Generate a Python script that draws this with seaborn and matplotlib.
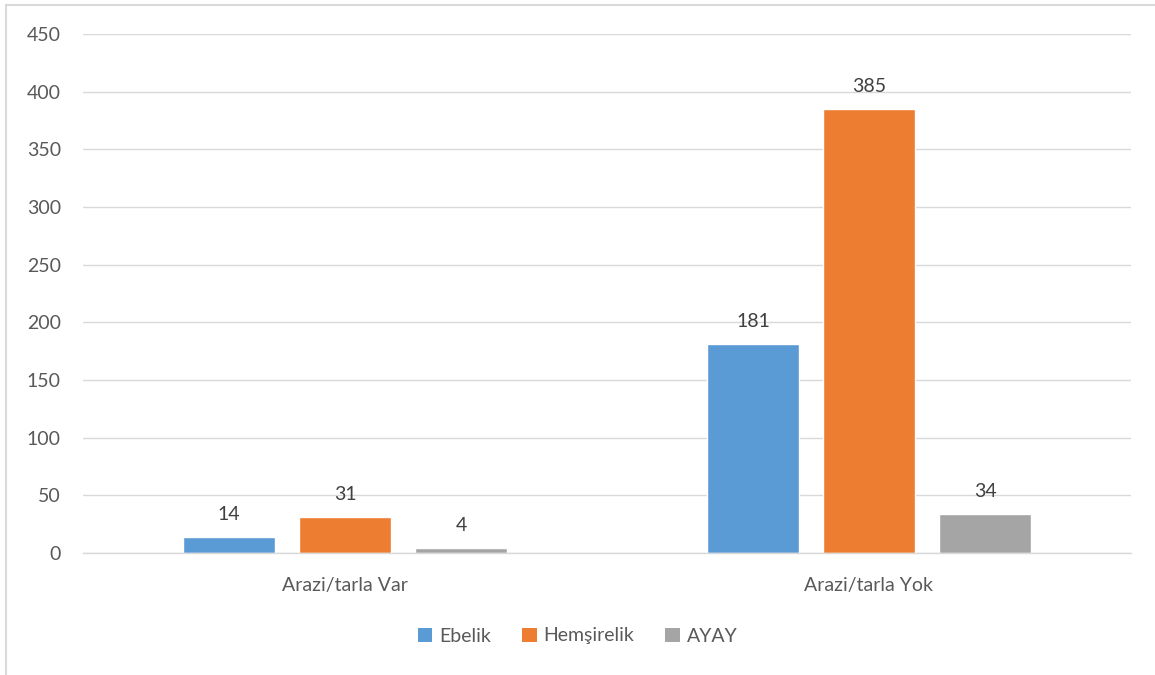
import matplotlib
matplotlib.use("Agg")
import matplotlib.pyplot as plt
import seaborn as sns
import pandas as pd
from matplotlib.lines import Line2D
from matplotlib.patches import Patch

categories = ["Arazi/tarla Var", "Arazi/tarla Yok"]
series_names = ["Ebelik", "Hemşirelik", "AYAY"]
ebelik = [14, 181]
hemsirelik = [31, 385]
ayay = [4, 34]
colors = ["#5B9BD5", "#ED7D31", "#A5A5A5"]
yticks = [0, 50, 100, 150, 200, 250, 300, 350, 400, 450]

rows = []
for name, vals in zip(series_names, [ebelik, hemsirelik, ayay]):
    for c, v in zip(categories, vals):
        rows.append({"cat": c, "series": name, "value": v})
df = pd.DataFrame(rows)

sns.set_theme(style="white")
plt.rcParams["font.family"] = ["Lato", "DejaVu Sans"]
text_color = "#595959"

fig = plt.figure(figsize=(11.55, 6.75), dpi=100)
ax = fig.add_axes([83/1155, 122/675, (1131-83)/1155, (553-34)/675])

sns.barplot(data=df, x="cat", y="value", hue="series", hue_order=series_names,
            order=categories, palette=colors, width=0.664, gap=0.207,
            saturation=1, ax=ax, legend=False, errorbar=None)

ax.set_ylim(0, 450)
ax.set_yticks(yticks)
ax.set_xlim(-0.5, 1.5)
ax.yaxis.grid(True, color="#D9D9D9", linewidth=1)
ax.set_axisbelow(True)
for s in ["left", "right", "top"]:
    ax.spines[s].set_visible(False)
ax.spines["bottom"].set_color("#D9D9D9")
ax.spines["bottom"].set_linewidth(1)
ax.set_xlabel("")
ax.set_ylabel("")
ax.tick_params(axis="both", length=0, labelsize=14, colors=text_color)
ax.tick_params(axis="y", pad=16)
ax.tick_params(axis="x", pad=17)

for cont in ax.containers:
    ax.bar_label(cont, labels=[f"{int(v)}" for v in cont.datavalues],
                 padding=10, fontsize=14, color="#404040")

handles = [Patch(facecolor=c, edgecolor="none") for c in colors]
fig.legend(handles, series_names, loc="center", bbox_to_anchor=(0.5, 1 - 636/675),
           ncol=3, frameon=False, fontsize=14, handlelength=0.75, handleheight=0.75,
           columnspacing=1.6, handletextpad=0.35, labelcolor=text_color)

fig.add_artist(Line2D([6/1155, 6/1155], [0, 1 - 5/675], transform=fig.transFigure,
                      color="#D9D9D9", linewidth=1.5))
fig.add_artist(Line2D([6/1155, 1.0], [1 - 5/675, 1 - 5/675], transform=fig.transFigure,
                      color="#D9D9D9", linewidth=1.5))

fig.savefig("out.png", dpi=100)
